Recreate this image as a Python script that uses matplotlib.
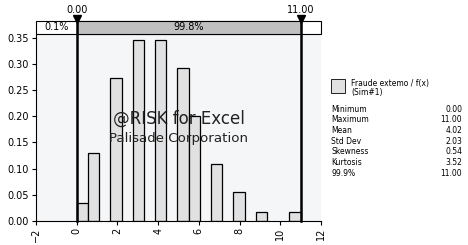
import matplotlib
matplotlib.use("Agg")
import matplotlib.pyplot as plt
from matplotlib.patches import Rectangle

# histogram bins (left edges) and density f(x)
bin_left = [0.0, 0.55, 1.65, 2.75, 3.85, 4.95, 5.5, 6.6, 7.7, 8.8, 10.45]
density = [0.035, 0.129, 0.273, 0.346, 0.346, 0.2925, 0.200, 0.108, 0.0545, 0.018, 0.018]
bin_width = 0.55

left_mark, right_mark = 0.00, 11.00
pct_left, pct_mid = "0.1%", "99.8%"

stat_names = ["Minimum", "Maximum", "Mean", "Std Dev", "Skewness", "Kurtosis", "99.9%"]
stat_values = ["0.00", "11.00", "4.02", "2.03", "0.54", "3.52", "11.00"]

plt.rcParams['font.family'] = ['DejaVu Sans']

fig = plt.figure(figsize=(4.68, 2.45), dpi=100)
W, H = 468, 245
ax_l, ax_r, ax_b, ax_t = 36, 321, 221, 34.5
ax = fig.add_axes([ax_l / W, 1 - ax_b / H, (ax_r - ax_l) / W, (ax_b - ax_t) / H])
ax.set_facecolor('#f5f6f8')

ax.bar(bin_left, density, width=bin_width, align='edge', color='#e1e1e1',
       edgecolor='black', linewidth=0.9, zorder=2)

ax.set_xlim(-2, 12)
ax.set_ylim(0, 0.3563)
ax.set_xticks(range(-2, 13, 2))
ax.set_yticks([i * 0.05 for i in range(8)])
ax.set_yticklabels([f"{i * 0.05:.2f}" for i in range(8)])
ax.tick_params(axis='x', labelrotation=90, labelsize=7, length=3, width=0.8, pad=2)
ax.tick_params(axis='y', labelsize=7, length=3, width=0.8, pad=2)
for s in ['top', 'right']:
    ax.spines[s].set_visible(False)
for s in ['left', 'bottom']:
    ax.spines[s].set_linewidth(0.8)

# watermark
ax.text(0.5, 0.55, "@RISK for Excel", transform=ax.transAxes, ha='center',
        va='center', fontsize=12, color='#222222', zorder=3)
ax.text(0.5, 0.44, "Palisade Corporation", transform=ax.transAxes, ha='center',
        va='center', fontsize=9.6, color='#222222', zorder=3)

# top percentage bar
tr = ax.get_xaxis_transform()
hpx = ax_b - ax_t
def ya(px):
    return (ax_b - px) / hpx

bar_bot, bar_top = ya(34), ya(21)
ax.add_patch(Rectangle((-2, bar_bot), 14, bar_top - bar_bot, transform=tr,
                       facecolor='white', edgecolor='black', linewidth=0.8,
                       clip_on=False, zorder=4))
ax.add_patch(Rectangle((left_mark, bar_bot), right_mark - left_mark, bar_top - bar_bot,
                       transform=tr, facecolor='#c0c0c0', edgecolor='black',
                       linewidth=0.8, clip_on=False, zorder=4))
ax.text((-2 + left_mark) / 2, (bar_bot + bar_top) / 2, pct_left, transform=tr,
        ha='center', va='center', fontsize=7, zorder=5)
ax.text((left_mark + right_mark) / 2, (bar_bot + bar_top) / 2, pct_mid, transform=tr,
        ha='center', va='center', fontsize=7, zorder=5)

# delimiter lines and markers
for xm in (left_mark, right_mark):
    ax.plot([xm, xm], [0, ya(17)], transform=tr, color='black', linewidth=1.8,
            clip_on=False, zorder=6)
    ax.plot([xm], [ya(19.5)], transform=tr, marker='v', markersize=6,
            color='black', clip_on=False, zorder=7)
    ax.text(xm, ya(10), f"{xm:.2f}", transform=tr, ha='center', va='center',
            fontsize=7, zorder=7)

# legend
fig.patches.append(Rectangle((331 / W, 1 - 93 / H), 14 / W, 14 / H,
                             transform=fig.transFigure, facecolor='#e1e1e1',
                             edgecolor='black', linewidth=0.6))
fig.text(351 / W, 1 - 83 / H, "Fraude extemo / f(x)", fontsize=5.5, va='center')
fig.text(351 / W, 1 - 93 / H, "(Sim#1)", fontsize=5.5, va='center')

for i, (n, v) in enumerate(zip(stat_names, stat_values)):
    y = 1 - (109 + i * 10.7) / H
    fig.text(331 / W, y, n, fontsize=5.5, va='center')
    fig.text(462 / W, y, v, fontsize=5.5, va='center', ha='right')

fig.savefig("out.png", dpi=100)
